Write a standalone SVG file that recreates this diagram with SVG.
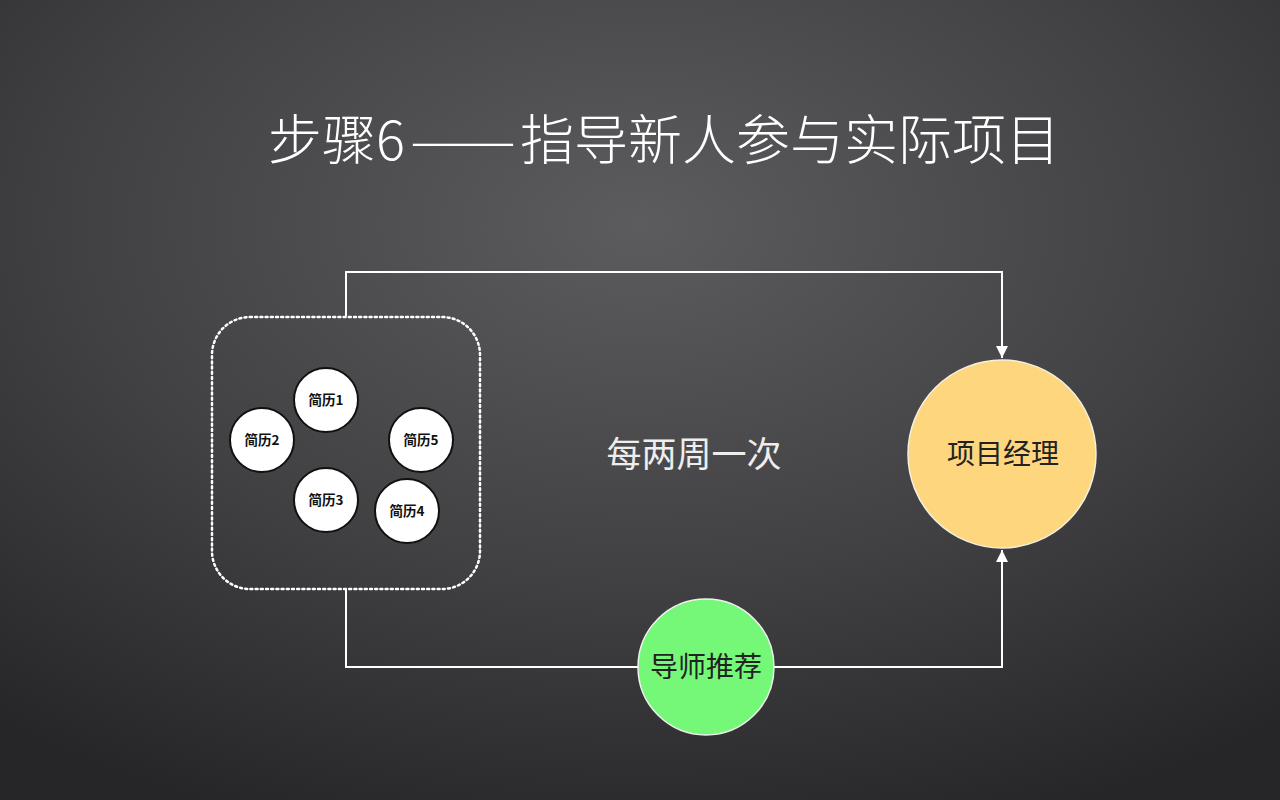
<svg xmlns="http://www.w3.org/2000/svg" width="1280" height="800" viewBox="0 0 1280 800">
<defs>
<radialGradient id="bg" cx="50%" cy="28%" r="80%" fx="50%" fy="28%">
<stop offset="0" stop-color="#5c5c5e"/>
<stop offset="0.55" stop-color="#414143"/>
<stop offset="1" stop-color="#262628"/>
</radialGradient>
<marker id="arr" markerWidth="12" markerHeight="12" viewBox="0 0 12 12" refX="12" refY="6" orient="auto" markerUnits="userSpaceOnUse">
<path d="M0,0 L12,6 L0,12 Z" fill="#ffffff"/>
</marker>
<style>
.cjk{font-family:"Noto Sans CJK SC","Noto Sans",sans-serif;}
.title{font-size:54px;fill:#ffffff;font-weight:300;}
.note{font-size:35px;fill:#eeeeee;}
.big{font-size:28px;fill:#222222;}
.cv circle{fill:#ffffff;stroke:#111111;stroke-width:2;}
.cv text{font-size:13.5px;font-weight:bold;fill:#111111;}
.conn{fill:none;stroke:#ffffff;stroke-width:2;}
</style>
</defs>
<rect x="0" y="0" width="1280" height="800" fill="url(#bg)"/>

<text class="cjk title" y="160"><tspan x="268">步骤6</tspan><tspan x="410" textLength="106" lengthAdjust="spacingAndGlyphs">——</tspan><tspan x="520">指导新人参与实际项目</tspan></text>

<g id="connectors">
<path class="conn" d="M346,316 V272 H1002 V358" marker-end="url(#arr)"/>
<path class="conn" d="M346,590 V667 H1002 V550" marker-end="url(#arr)"/>
</g>

<g id="resume-pool">
<rect x="212" y="317" width="268" height="272" rx="38" ry="38" fill="none" stroke="#ffffff" stroke-width="2.5" stroke-dasharray="2 3.2" stroke-linecap="round"/>
<g id="cv1" class="cv"><circle cx="326" cy="400" r="32"/><text class="cjk" x="326" y="405" text-anchor="middle">简历1</text></g>
<g id="cv2" class="cv"><circle cx="262" cy="440" r="32"/><text class="cjk" x="262" y="445" text-anchor="middle">简历2</text></g>
<g id="cv5" class="cv"><circle cx="421" cy="440" r="32"/><text class="cjk" x="421" y="445" text-anchor="middle">简历5</text></g>
<g id="cv3" class="cv"><circle cx="326" cy="500" r="32"/><text class="cjk" x="326" y="505" text-anchor="middle">简历3</text></g>
<g id="cv4" class="cv"><circle cx="407" cy="511" r="32"/><text class="cjk" x="407" y="516" text-anchor="middle">简历4</text></g>
</g>

<g id="label-freq">
<text class="cjk note" x="694" y="467" text-anchor="middle">每两周一次</text>
</g>

<g id="pm">
<circle cx="1002" cy="454" r="94" fill="#fdd67e" stroke="#f4f0e0" stroke-width="1.5"/>
<text class="cjk big" x="1003" y="464" text-anchor="middle">项目经理</text>
</g>

<g id="mentor">
<circle cx="706" cy="667" r="68" fill="#75f878" stroke="#f0f0f0" stroke-width="1.5"/>
<text class="cjk big" x="706" y="677" text-anchor="middle">导师推荐</text>
</g>
</svg>
